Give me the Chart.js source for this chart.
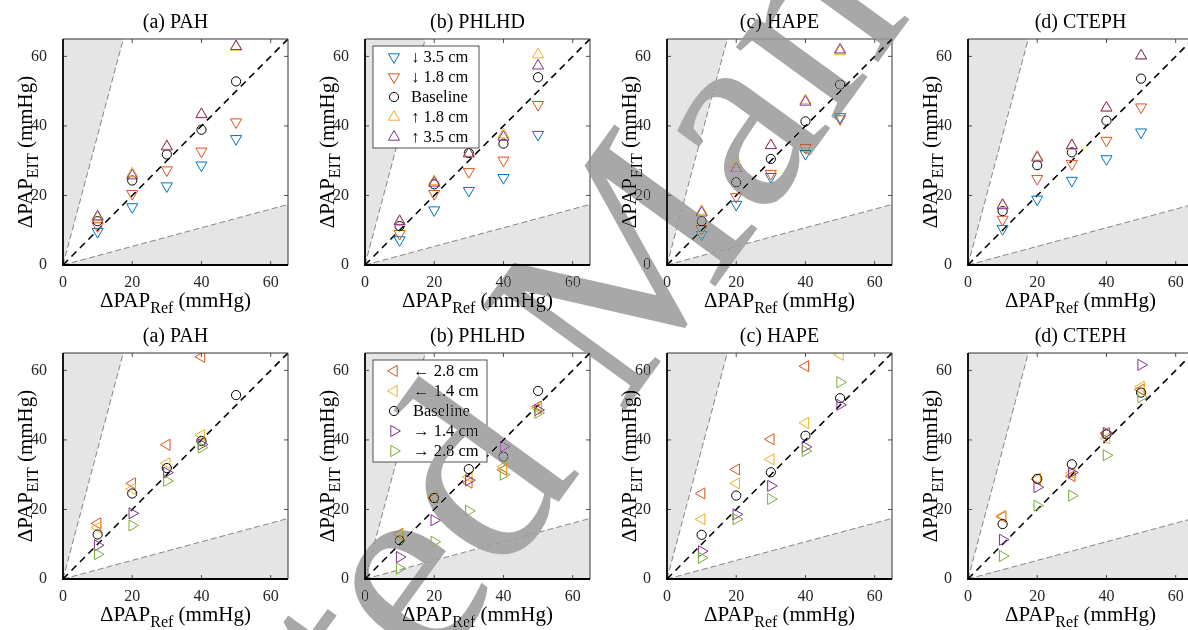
<!DOCTYPE html>
<html>
<head>
<meta charset="utf-8">
<script src="https://cdn.jsdelivr.net/npm/chart.js@4.4.1/dist/chart.umd.min.js"></script>
<style>
  body { margin: 0; background: #fff; width: 1188px; height: 630px; overflow: hidden; position: relative; }
  canvas.panel { position: absolute; }
  #wm { position: absolute; left: 0; top: 0; mix-blend-mode: darken; pointer-events: none; }
</style>
</head>
<body>
<canvas id="wm" width="1188" height="630"></canvas>
<script>
// reference pressure steps (x values) and axis setup
const refValues = [10, 20, 30, 40, 50];
const tickValues = [0, 20, 40, 60];
const axisMax = 65;

const topTitles = ['(a) PAH', '(b) PHLHD', '(c) HAPE', '(d) CTEPH'];
const topLabels = ['\u2193 3.5 cm', '\u2193 1.8 cm', 'Baseline', '\u2191 1.8 cm', '\u2191 3.5 cm'];
const bottomLabels = ['\u2190 2.8 cm', '\u2190 1.4 cm', 'Baseline', '\u2192 1.4 cm', '\u2192 2.8 cm'];

// top row: vertical electrode shift, one row per series (same order as topLabels)
const vertPAH = [
  [9.6, 16.7, 22.7, 28.7, 36.3],
  [11.2, 20.5, 27.3, 32.7, 41.1],
  [12.6, 24.3, 31.8, 38.9, 52.8],
  [13.6, 26.3, 34.2, 43.4, 62.7],
  [13.9, 25.7, 34.0, 43.3, 62.9]
];
const vertPHLHD = [
  [7.2, 15.8, 21.4, 25.1, 37.5],
  [9.0, 20.5, 26.8, 30.1, 46.1],
  [11.2, 23.2, 32.2, 34.9, 54.0],
  [12.3, 24.1, 32.2, 37.5, 60.5],
  [12.6, 23.6, 32.0, 36.8, 57.3]
];
const vertHAPE = [
  [8.8, 17.4, 25.4, 32.0, 42.6],
  [10.4, 19.6, 26.3, 33.7, 42.0],
  [12.6, 23.8, 30.5, 41.3, 51.9],
  [15.5, 28.9, 34.4, 47.3, 61.4],
  [15.0, 27.7, 34.4, 46.9, 61.9]
];
const vertCTEPH = [
  [10.4, 18.9, 24.3, 30.5, 38.2],
  [13.1, 24.8, 29.1, 35.8, 45.4],
  [15.5, 28.7, 32.4, 41.5, 53.6],
  [17.4, 31.1, 34.2, 45.2, 60.2],
  [17.1, 30.8, 34.4, 45.2, 60.2]
];

// bottom row: horizontal electrode shift (same order as bottomLabels)
const horizPAH = [
  [16.0, 27.5, 38.6, 63.9, null],
  [14.8, 25.9, 33.3, 41.4, null],
  [12.8, 24.6, 31.9, 39.7, 52.9],
  [9.7, 18.9, 30.6, 38.7, null],
  [7.1, 15.4, 28.2, 37.8, null]
];
const horizPHLHD = [
  [13.0, 23.3, 27.7, 31.4, 49.6],
  [12.6, 24.0, 29.4, 32.3, 49.1],
  [11.1, 23.3, 31.6, 35.2, 54.1],
  [6.3, 16.9, 28.4, 38.1, 48.6],
  [3.0, 10.7, 19.6, 30.0, 47.8]
];
const horizHAPE = [
  [24.6, 31.5, 40.2, 61.2, null],
  [17.2, 27.5, 34.4, 44.9, 64.5],
  [12.7, 24.0, 30.7, 41.2, 52.0],
  [8.0, 18.6, 26.8, 38.0, 50.1],
  [6.1, 17.2, 23.0, 36.8, 56.6]
];
const horizCTEPH = [
  [17.9, 28.8, 29.6, 42.0, 54.5],
  [18.2, 28.8, 30.5, 40.4, 55.3],
  [15.8, 28.8, 33.0, 41.6, 53.6],
  [11.3, 26.4, 30.6, 42.0, 61.6],
  [6.6, 21.1, 24.0, 35.6, 52.3]
];

// error band boundaries (15 and 75 degree lines)
const shallowSlope = Math.tan(15 * Math.PI / 180);
const steepSlope = Math.tan(75 * Math.PI / 180);

// marker styles (MATLAB default colours)
const topStyles = [
  { color: '#0072BD', style: 'triangle', rotation: 180 },
  { color: '#D95319', style: 'triangle', rotation: 180 },
  { color: '#000000', style: 'circle', rotation: 0 },
  { color: '#EDB120', style: 'triangle', rotation: 0 },
  { color: '#7E2F8E', style: 'triangle', rotation: 0 }
];
const bottomStyles = [
  { color: '#D95319', style: 'triangle', rotation: 270 },
  { color: '#EDB120', style: 'triangle', rotation: 270 },
  { color: '#000000', style: 'circle', rotation: 0 },
  { color: '#7E2F8E', style: 'triangle', rotation: 90 },
  { color: '#77AC30', style: 'triangle', rotation: 90 }
];

const serif = '"Liberation Serif", "DejaVu Serif", serif';
const plotLefts = [63, 365, 667, 968];
const plotTops = [39, 353];
const triRadius = 6.4;
const circRadius = 4.6;

const panels = [
  { row: 0, col: 0, values: vertPAH },
  { row: 0, col: 1, values: vertPHLHD, legend: true },
  { row: 0, col: 2, values: vertHAPE },
  { row: 0, col: 3, values: vertCTEPH },
  { row: 1, col: 0, values: horizPAH },
  { row: 1, col: 1, values: horizPHLHD, legend: true },
  { row: 1, col: 2, values: horizHAPE },
  { row: 1, col: 3, values: horizCTEPH }
];

function drawMarker(ctx, style, x, y) {
  ctx.beginPath();
  if (style.style === 'circle') {
    ctx.arc(x, y, circRadius, 0, Math.PI * 2);
  } else {
    const r = triRadius;
    let rad = style.rotation * Math.PI / 180;
    ctx.moveTo(x + Math.sin(rad) * r, y - Math.cos(rad) * r);
    rad += 2 * Math.PI / 3;
    ctx.lineTo(x + Math.sin(rad) * r, y - Math.cos(rad) * r);
    rad += 2 * Math.PI / 3;
    ctx.lineTo(x + Math.sin(rad) * r, y - Math.cos(rad) * r);
    ctx.closePath();
  }
  ctx.strokeStyle = style.color;
  ctx.lineWidth = 1;
  ctx.stroke();
}

// text with a subscript part, e.g. ΔPAP_EIT (mmHg)
function drawSubText(ctx, parts, cx, cy, rotate) {
  ctx.save();
  ctx.translate(cx, cy);
  if (rotate) ctx.rotate(-Math.PI / 2);
  let total = 0;
  parts.forEach(p => { ctx.font = p.size + 'px ' + serif; total += ctx.measureText(p.text).width; });
  let x = -total / 2;
  ctx.fillStyle = '#000';
  ctx.textBaseline = 'alphabetic';
  ctx.textAlign = 'left';
  parts.forEach(p => {
    ctx.font = p.size + 'px ' + serif;
    ctx.fillText(p.text, x, p.sub ? 6 : 0);
    x += ctx.measureText(p.text).width;
  });
  ctx.restore();
}

const framePlugin = {
  id: 'frame',
  afterDatasetsDraw(chart) {
    const { ctx, chartArea: a, scales } = chart;
    ctx.save();
    // inward ticks on all four sides
    ctx.strokeStyle = '#262626';
    ctx.lineWidth = 0.8;
    tickValues.slice(1).forEach(v => {
      const px = scales.x.getPixelForValue(v);
      const py = scales.y.getPixelForValue(v);
      ctx.beginPath();
      ctx.moveTo(px, a.bottom); ctx.lineTo(px, a.bottom - 4);
      ctx.moveTo(px, a.top); ctx.lineTo(px, a.top + 4);
      ctx.moveTo(a.left, py); ctx.lineTo(a.left + 4, py);
      ctx.moveTo(a.right, py); ctx.lineTo(a.right - 4, py);
      ctx.stroke();
    });
    ctx.strokeStyle = '#333';
    ctx.lineWidth = 1;
    ctx.beginPath();
    ctx.moveTo(a.left, a.top); ctx.lineTo(a.right, a.top); ctx.lineTo(a.right, a.bottom);
    ctx.stroke();
    ctx.strokeStyle = '#000';
    ctx.lineWidth = 1.8;
    ctx.beginPath();
    ctx.moveTo(a.left, a.top); ctx.lineTo(a.left, a.bottom); ctx.lineTo(a.right, a.bottom);
    ctx.stroke();
    ctx.restore();
  },
  afterDraw(chart, args, opts) {
    const { ctx, chartArea: a } = chart;
    ctx.save();
    ctx.fillStyle = '#000';
    ctx.font = '20px ' + serif;
    ctx.textAlign = 'center';
    ctx.textBaseline = 'alphabetic';
    ctx.fillText(opts.title, (a.left + a.right) / 2, a.top - 11);
    drawSubText(ctx, [
      { text: '\u0394PAP', size: 21 }, { text: 'Ref', size: 16, sub: true }, { text: ' (mmHg)', size: 21 }
    ], (a.left + a.right) / 2, a.bottom + 42, false);
    drawSubText(ctx, [
      { text: '\u0394PAP', size: 21 }, { text: 'EIT', size: 16, sub: true }, { text: ' (mmHg)', size: 21 }
    ], 32, (a.top + a.bottom) / 2, true);

    if (opts.labels) {
      const bx = a.left + 8, by = a.top + 7;
      const bw = opts.row === 0 ? 106 : 114, bh = 102;
      ctx.fillStyle = '#fff';
      ctx.fillRect(bx, by, bw, bh);
      ctx.strokeStyle = '#262626';
      ctx.lineWidth = 0.8;
      ctx.strokeRect(bx, by, bw, bh);
      ctx.font = '16.5px ' + serif;
      ctx.textAlign = 'left';
      ctx.textBaseline = 'middle';
      opts.labels.forEach((label, i) => {
        const y = a.top + 18 + i * 20;
        drawMarker(ctx, opts.styles[i], a.left + 29, y);
        ctx.fillStyle = '#000';
        ctx.fillText(label, a.left + (opts.row === 0 ? 46 : 48), y + 1);
      });
    }
    ctx.restore();
  }
};

panels.forEach(p => {
  const canvas = document.createElement('canvas');
  canvas.className = 'panel';
  canvas.width = 300;
  canvas.height = 318;
  canvas.style.left = (plotLefts[p.col] - 63) + 'px';
  canvas.style.top = (plotTops[p.row] - 40) + 'px';
  document.body.insertBefore(canvas, document.getElementById('wm'));

  const styles = p.row === 0 ? topStyles : bottomStyles;
  const labels = p.row === 0 ? topLabels : bottomLabels;

  const markerSets = p.values.map((vals, i) => ({
    label: labels[i],
    data: refValues.map((x, j) => ({ x: x, y: vals[j] })),
    pointStyle: styles[i].style,
    rotation: styles[i].rotation,
    pointRadius: styles[i].style === 'circle' ? circRadius : triRadius,
    pointBorderColor: styles[i].color,
    pointBackgroundColor: 'rgba(0,0,0,0)',
    pointBorderWidth: 1,
    showLine: false,
    order: 5 - i
  }));

  const datasets = markerSets.concat([
    {
      label: 'identity',
      data: [{ x: 0, y: 0 }, { x: axisMax, y: axisMax }],
      showLine: true, pointRadius: 0,
      borderColor: '#000', borderWidth: 1.6, borderDash: [7, 5],
      order: 8
    },
    {
      label: 'upper band',
      data: [{ x: 0, y: 0 }, { x: axisMax / steepSlope, y: axisMax }],
      showLine: true, pointRadius: 0, fill: 'end',
      backgroundColor: 'rgba(0,0,0,0.1)',
      borderColor: '#555', borderWidth: 0.7, borderDash: [6, 3],
      order: 10
    },
    {
      label: 'lower band',
      data: [{ x: 0, y: 0 }, { x: axisMax, y: axisMax * shallowSlope }],
      showLine: true, pointRadius: 0, fill: 'origin',
      backgroundColor: 'rgba(0,0,0,0.1)',
      borderColor: '#555', borderWidth: 0.7, borderDash: [6, 3],
      order: 10
    }
  ]);

  const axis = (isX) => ({
    type: 'linear',
    min: 0,
    max: axisMax,
    afterBuildTicks: (scale) => { scale.ticks = tickValues.map(v => ({ value: v })); },
    afterFit: (scale) => { if (isX) scale.height = 52; else scale.width = 63; },
    grid: { display: false },
    border: { display: false },
    ticks: { padding: isX ? 0 : 8, color: '#262626', font: { family: serif, size: 16 } }
  });

  new Chart(canvas.getContext('2d'), {
    type: 'scatter',
    data: { datasets: datasets },
    options: {
      responsive: false,
      animation: false,
      layout: { padding: { left: 0, top: 40, right: 12, bottom: 0 } },
      plugins: {
        legend: { display: false },
        tooltip: { enabled: false },
        frame: { title: topTitles[p.col], labels: p.legend ? labels : null, styles: styles, row: p.row }
      },
      scales: { x: axis(true), y: axis(false) }
    },
    plugins: [framePlugin]
  });
});

// "Accepted Manuscript" watermark
const wmText = 'Accepted Manuscript';
const wmSize = 270;
const wmAngle = -54;
const wmAnchor = [762, 222];
const wm = document.getElementById('wm').getContext('2d');
wm.font = wmSize + 'px ' + serif;
const offsetA = wm.measureText('Accepted M').width;
wm.translate(wmAnchor[0], wmAnchor[1]);
wm.rotate(wmAngle * Math.PI / 180);
wm.fillStyle = '#a8a8a8';
wm.fillText(wmText, -offsetA, 0);
</script>
</body>
</html>
